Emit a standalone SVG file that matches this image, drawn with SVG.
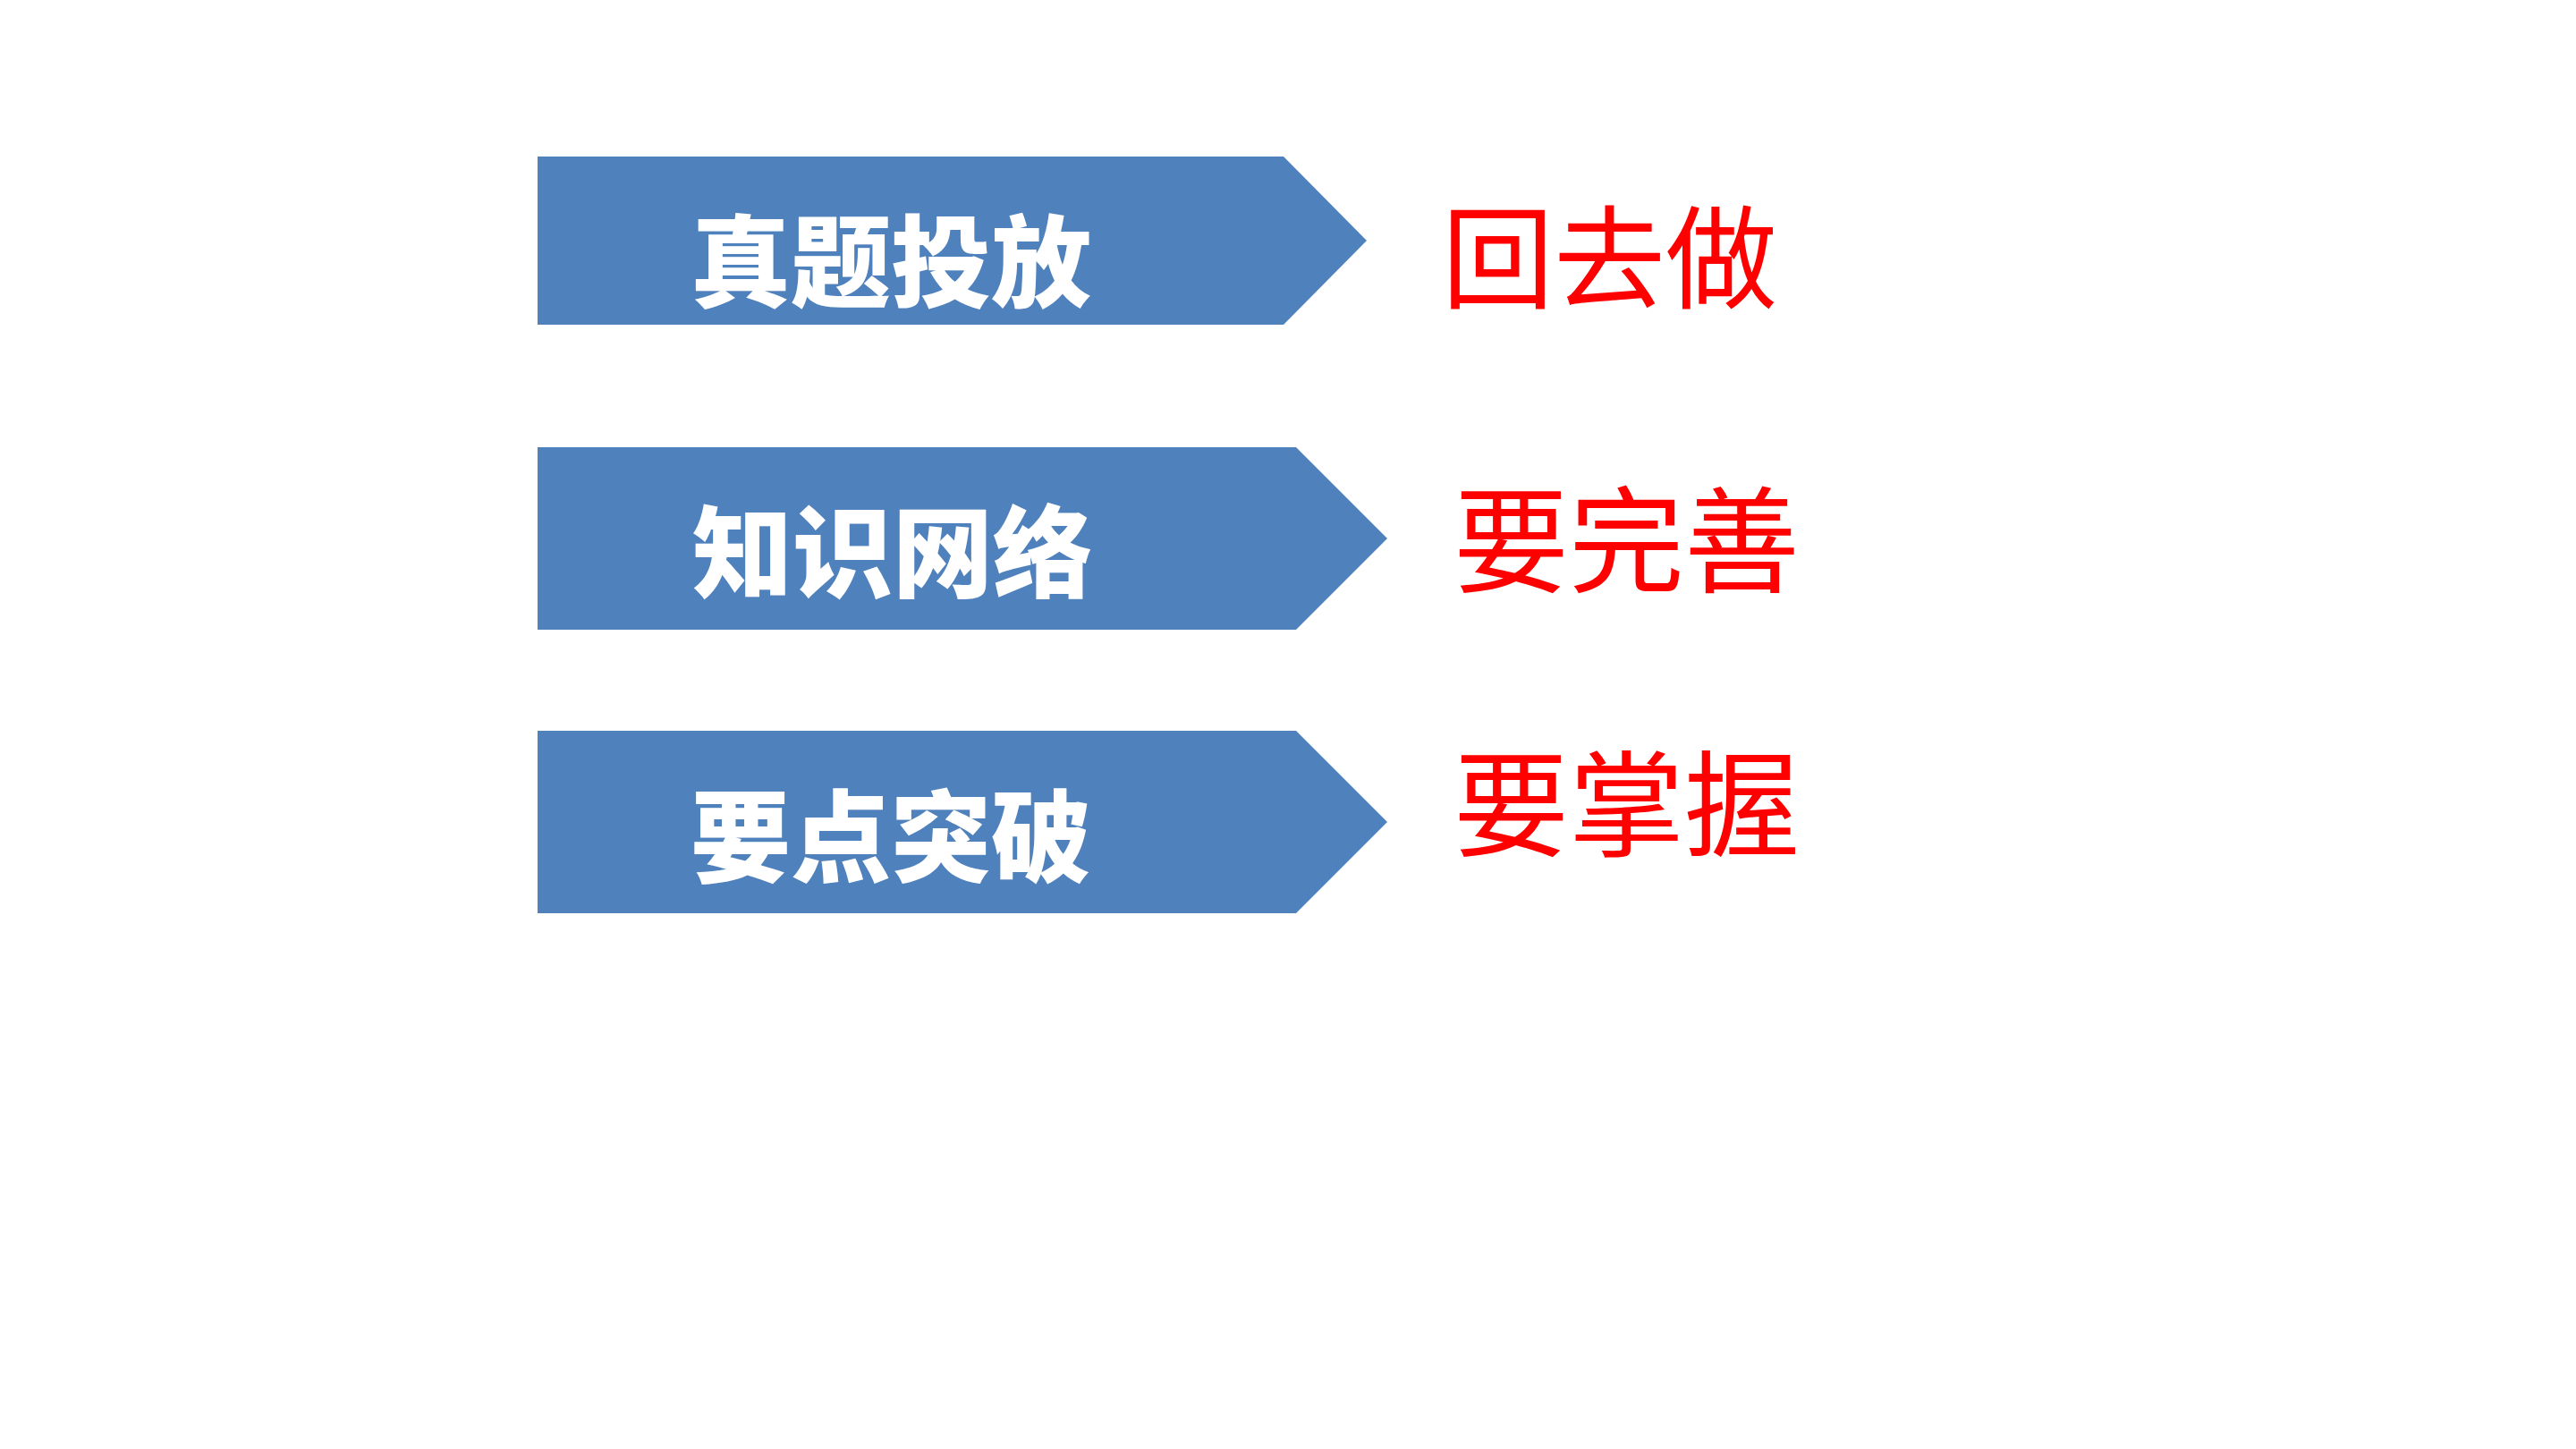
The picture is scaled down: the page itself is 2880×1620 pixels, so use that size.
<svg xmlns="http://www.w3.org/2000/svg" width="2880" height="1620" viewBox="0 0 2880 1620">
  <style>
    .arrow { fill: #4F81BD; }
    .label { font-family: "Noto Sans CJK SC", "Noto Sans", sans-serif; font-weight: 900; font-size: 112px; fill: #FFFFFF; }
    .note { font-family: "Noto Sans CJK SC", "Noto Sans", sans-serif; font-weight: 400; font-size: 129px; fill: #FF0000; }
  </style>
  <rect x="0" y="0" width="2880" height="1620" fill="#FFFFFF"/>
  <g id="node-1">
    <polygon class="arrow" points="601,175 1435,175 1528,269 1435,363 601,363"/>
    <text class="label" x="772" y="335">真题投放</text>
  </g>
  <g id="node-2">
    <polygon class="arrow" points="601,500 1449,500 1551,602 1449,704 601,704"/>
    <text class="label" x="774" y="660">知识网络</text>
  </g>
  <g id="node-3">
    <polygon class="arrow" points="601,817 1449,817 1551,919 1449,1021 601,1021"/>
    <text class="label" x="772" y="978">要点突破</text>
  </g>
  <g id="note-1">
    <text class="note" x="1612" y="335" style="font-size:125px">回去做</text>
  </g>
  <g id="note-2">
    <text class="note" x="1625" y="653">要完善</text>
  </g>
  <g id="note-3">
    <text class="note" x="1625" y="948">要掌握</text>
  </g>
  <g id="connectors"/>
</svg>
